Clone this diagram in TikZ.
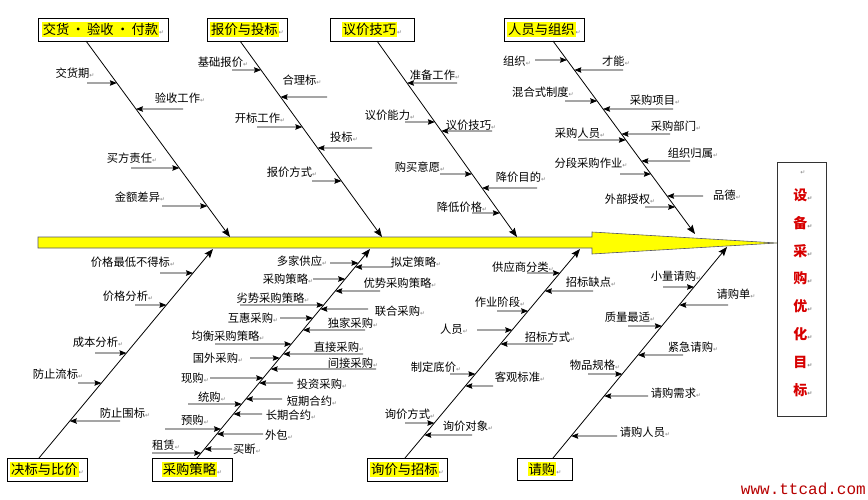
\documentclass[tikz,border=0pt]{standalone}
\usepackage{fontspec}
\setmainfont{Noto Sans CJK SC}
\newfontfamily\djv{DejaVu Sans}
\newfontfamily\monofam{Liberation Mono}
\usetikzlibrary{arrows.meta}
\definecolor{hlyellow}{RGB}{255,255,0}
\definecolor{goalred}{RGB}{215,0,0}
\definecolor{arrowedge}{RGB}{85,85,105}
\newcommand\rt{{\djv\fontsize{6}{6}\selectfont\color{gray}↵}}
\newcommand\hlt[1]{{\setlength{\fboxsep}{1pt}\colorbox{hlyellow}{#1}}}
\newcommand\lab[4]{\node[lbl] (#1) at (#2,#3) {#4\rt};}
\newcommand\sa[3]{\draw[subarr] (#3,#2) -- (intersection of #1s--#1e and 0,#2--1,#2);}
\tikzset{
  lbl/.style={font=\fontsize{11.3}{12}\selectfont, inner sep=0pt},
  cat/.style={draw=black, line width=0.8pt, fill=white, inner sep=0pt, minimum height=23pt,
    font=\fontsize{13.3}{14}\selectfont},
  bone/.style={line width=0.8pt, -{Stealth[length=9pt,width=7pt,inset=1.5pt]}},
  subarr/.style={line width=0.75pt, -{Stealth[length=7pt,width=5.5pt,inset=1pt]}},
  goal/.style={text=goalred, font=\fontsize{14}{14}\selectfont\bfseries, inner sep=0pt},
  mainarrow/.style={fill=hlyellow, draw=arrowedge, line width=0.6pt, line join=miter}
}
\begin{document}
\begin{tikzpicture}[x=1pt,y=-1pt]
\useasboundingbox (0,0) rectangle (868,500);
% main arrow
\draw[mainarrow] (38,237) -- (592,237) -- (592,232) -- (777,243) -- (592,254) -- (592,248) -- (38,248) -- cycle;
% goal box
\node[draw=black!80, line width=0.8pt, minimum width=49pt, minimum height=254pt, inner sep=0pt] (goal) at (801.5,289) {};
\node[inner sep=0pt] (g0) at (803,173) {\rt};
\foreach \c [count=\i] in {设,备,采,购,优,化,目,标}
  \node[goal] (g\i) at (803,167+27.9*\i) {\c\rt};
% category boxes
\node[cat, minimum width=130pt] (c1) at (103,29.5) {\hlt{交货\,·\,验收\,·\,付款}\rt};
\node[cat, minimum width=80pt] (c2) at (247,29.5) {\hlt{报价与投标}\rt};
\node[cat, minimum width=84pt] (c3) at (372,29.5) {\hlt{议价技巧}\rt};
\node[cat, minimum width=80pt] (c4) at (544,29.5) {\hlt{人员与组织}\rt};
\node[cat, minimum width=80pt] (d1) at (47,469.5) {\hlt{决标与比价}\rt};
\node[cat, minimum width=80pt] (d2) at (192,469.5) {\hlt{采购策略}\rt};
\node[cat, minimum width=80pt] (d3) at (407,469.5) {\hlt{询价与招标}\rt};
\node[cat, minimum width=55pt, minimum height=22pt] (d4) at (544.5,469) {\hlt{请购}\rt};
% bone end points
\coordinate (T1s) at (86,41);  \coordinate (T1e) at (230,237);
\coordinate (T2s) at (240,41); \coordinate (T2e) at (382,237);
\coordinate (T3s) at (377,41); \coordinate (T3e) at (517,237);
\coordinate (T4s) at (553,41); \coordinate (T4e) at (695,234);
\coordinate (B1s) at (39,458);  \coordinate (B1e) at (213,249);
\coordinate (B2s) at (197,458); \coordinate (B2e) at (370,249);
\coordinate (B3s) at (405,458); \coordinate (B3e) at (580,249);
\coordinate (B4s) at (553,458); \coordinate (B4e) at (727,247);
\foreach \b in {T1,T2,T3,T4,B1,B2,B3,B4} \draw[bone] (\b s) -- (\b e);
% ---- T1
\lab{a1}{75}{73}{交货期}      \sa{T1}{83}{87}
\lab{a2}{180}{98}{验收工作}   \sa{T1}{109}{183}
\lab{a3}{132}{158}{买方责任}  \sa{T1}{168}{131}
\lab{a4}{140}{197}{金额差异}  \sa{T1}{206}{162}
% ---- T2
\lab{b1}{223}{62}{基础报价}   \sa{T2}{70}{232}
\lab{b2}{302}{80}{合理标}     \sa{T2}{97}{327}
\lab{b3}{260}{118}{开标工作}  \sa{T2}{127}{257}
\lab{b4}{344}{137}{投标}      \sa{T2}{148}{372}
\lab{b5}{292}{172}{报价方式}  \sa{T2}{181}{312}
% ---- T3
\lab{e1}{435}{75}{准备工作}   \sa{T3}{83}{457}
\lab{e2}{390}{115}{议价能力}  \sa{T3}{122}{405}
\lab{e3}{471}{125}{议价技巧}  \sa{T3}{131}{492}
\lab{e4}{420}{167}{购买意愿}  \sa{T3}{174}{440}
\lab{e5}{521}{177}{降价目的}  \sa{T3}{188}{537}
\lab{e6}{462}{207}{降低价格}  \sa{T3}{213}{472}
% ---- T4
\lab{f1}{517}{61}{组织}       \sa{T4}{60}{535}
\lab{f2}{616}{61}{才能}       \sa{T4}{70}{623}
\lab{f3}{543}{92}{混合式制度} \sa{T4}{101}{565}
\lab{f4}{655}{100}{采购项目}  \sa{T4}{109}{673}
\lab{f5}{676}{126}{采购部门}  \sa{T4}{134}{670}
\lab{f6}{580}{133}{采购人员}  \sa{T4}{140}{578}
\lab{f7}{693}{153}{组织归属}  \sa{T4}{161}{690}
\lab{f8}{591}{163}{分段采购作业} \sa{T4}{174}{620}
\lab{f9}{630}{199}{外部授权}  \sa{T4}{207}{645}
\lab{f10}{727}{195}{品德}     \sa{T4}{196}{703}
% ---- B1
\lab{h1}{133}{262}{价格最低不得标} \sa{B1}{273}{160}
\lab{h2}{128}{296}{价格分析}  \sa{B1}{305}{135}
\lab{h3}{98}{342}{成本分析}   \sa{B1}{353}{95}
\lab{h4}{58}{374}{防止流标}   \sa{B1}{383}{78}
\lab{h5}{125}{413}{防止围标}  \sa{B1}{421}{120}
% ---- B2
\lab{k1}{302}{261}{多家供应}  \sa{B2}{263}{330}
\lab{k2}{288}{279}{采购策略}  \sa{B2}{279}{313}
\lab{k3}{273}{298}{劣势采购策略} \sa{B2}{305}{240}
\lab{k4}{416}{262}{拟定策略}  \sa{B2}{267}{393}
\lab{k5}{400}{283}{优势采购策略} \sa{B2}{291}{380}
\lab{k6}{400}{311}{联合采购}  \sa{B2}{309}{368}
\lab{k7}{253}{318}{互惠采购}  \sa{B2}{318}{280}
\lab{k8}{353}{323}{独家采购}  \sa{B2}{330}{365}
\lab{k9}{228}{336}{均衡采购策略} \sa{B2}{344}{215}
\lab{k10}{339}{347}{直接采购} \sa{B2}{354}{363}
\lab{k11}{218}{358}{国外采购} \sa{B2}{358}{250}
\lab{k12}{353}{363}{间接采购} \sa{B2}{369}{376}
\lab{k13}{195}{378}{现购}     \sa{B2}{378}{210}
\lab{k14}{322}{384}{投资采购} \sa{B2}{383}{293}
\lab{k15}{312}{401}{短期合约} \sa{B2}{399}{282}
\lab{k16}{212}{397}{统购}     \sa{B2}{404}{188}
\lab{k17}{291}{415}{长期合约} \sa{B2}{414}{262}
\lab{k18}{195}{420}{预购}     \sa{B2}{429}{165}
\lab{k19}{279}{435}{外包}     \sa{B2}{434}{263}
\lab{k20}{166}{445}{租赁}     \sa{B2}{453}{152}
\lab{k21}{247}{449}{买断}     \sa{B2}{449}{232}
% ---- B3
\lab{m1}{523}{267}{供应商分类} \sa{B3}{273}{527}
\lab{m2}{591}{282}{招标缺点}  \sa{B3}{291}{593}
\lab{m3}{500}{302}{作业阶段}  \sa{B3}{311}{497}
\lab{m4}{454}{329}{人员}      \sa{B3}{330}{477}
\lab{m5}{550}{337}{招标方式}  \sa{B3}{344}{553}
\lab{m6}{436}{367}{制定底价}  \sa{B3}{374}{450}
\lab{m7}{520}{377}{客观标准}  \sa{B3}{386}{493}
\lab{m8}{410}{414}{询价方式}  \sa{B3}{423}{405}
\lab{m9}{468}{426}{询价对象}  \sa{B3}{435}{472}
% ---- B4
\lab{n1}{676}{276}{小量请购}  \sa{B4}{287}{663}
\lab{n2}{736}{294}{请购单}    \sa{B4}{305}{728}
\lab{n3}{630}{317}{质量最适}  \sa{B4}{326}{628}
\lab{n4}{693}{347}{紧急请购}  \sa{B4}{355}{683}
\lab{n5}{595}{365}{物品规格}  \sa{B4}{374}{588}
\lab{n6}{676}{393}{请购需求}  \sa{B4}{396}{648}
\lab{n7}{645}{432}{请购人员}  \sa{B4}{436}{617}
% watermark
\node[anchor=east, inner sep=0pt, text=goalred!85!black, font=\monofam\fontsize{16}{16}\selectfont] (wm) at (866,489) {www.ttcad.com};
\end{tikzpicture}
\end{document}
